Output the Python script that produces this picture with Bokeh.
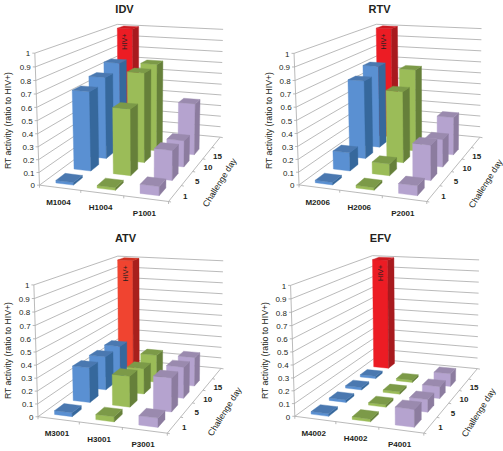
import numpy as np
from bokeh.plotting import figure
from bokeh.models import Range1d
from bokeh.core.properties import value
from bokeh.embed import file_html
from bokeh.resources import INLINE

# ---- data ----
titles = ["IDV", "RTV", "ATV", "EFV"]
day_labels = ["1", "5", "10", "15"]
tick_labels = ["0", "0.1", "0.2", "0.3", "0.4", "0.5", "0.6", "0.7", "0.8", "0.9", "1"]
samples = [["M1004", "H1004", "P1001"], ["M2006", "H2006", "P2001"],
           ["M3001", "H3001", "P3001"], ["M4002", "H4002", "P4001"]]
idv_m = [0.02, 0.645, 0.69, 0.75]
idv_h = [0.02, 0.535, 0.75, 0.76]
idv_p = [0.07, 0.24, 0.22, 0.445]
rtv_m = [0.02, 0.15, 0.66, 0.72]
rtv_h = [0.02, 0.095, 0.595, 0.71]
rtv_p = [0.075, 0.28, 0.23, 0.325]
atv_m = [0.03, 0.285, 0.285, 0.29]
atv_h = [0.04, 0.25, 0.215, 0.24]
atv_p = [0.07, 0.27, 0.26, 0.25]
efv_m = [0.02, 0.02, 0.02, 0.02]
efv_h = [0.02, 0.02, 0.02, 0.02]
efv_p = [0.135, 0.10, 0.10, 0.11]
hiv_pos = [1.0, 1.0, 1.0, 1.0]
panels = [[idv_m, idv_h, idv_p], [rtv_m, rtv_h, rtv_p], [atv_m, atv_h, atv_p], [efv_m, efv_h, efv_p]]

# ---- layout: perspective box corners (zoom-pixels / 3 + panel offset) ----
offsets = [(0, 0), (250, 0), (0, 225), (250, 225)]
corners = [
    dict(p000=(118, 553), p100=(503, 605), p110=(660, 407), p010=(352, 383), p001=(103, 157), p011=(350, 71), p111=(668, 88)),
    dict(p000=(148, 553), p100=(527, 605), p110=(690, 407), p010=(380, 383), p001=(130, 157), p011=(378, 71), p111=(693, 86)),
    dict(p000=(113, 572), p100=(500, 625), p110=(662, 426), p010=(354, 402), p001=(100, 178), p011=(352, 91), p111=(668, 107)),
    dict(p000=(135, 572), p100=(518, 625), p110=(682, 426), p010=(368, 402), p001=(120, 178), p011=(366, 90), p111=(686, 105)),
]
title_pos = [(124, 8), (379, 8), (125, 237), (380, 237)]
ylabel_x = [7, 268, 7, 264]
ylabel_y = [120, 120, 350, 350]
daylabel_pos = [(219, 182), (485, 183), (224, 411), (478, 412)]
red_colors = ["#ec1c24", "#ec1c24", "#f04430", "#ec1c24"]
red_side = ["#a81a1e", "#a81a1e", "#a8201c", "#a81a1e"]
red_top = ["#cc1a20", "#cc1a20", "#d03020", "#cc1a20"]
colors = [("#5a90d2", "#36689c", "#4a78b0"), ("#9bbc58", "#66803a", "#7c9a48"), ("#b5a3cf", "#8c7c9f", "#9a8aae")]
grid = "#a8a8a8"
text_c = "#231f20"
font = value("Liberation Sans")


def fit(c, off):
    keys = {"p000": (0, 0, 0), "p100": (1, 0, 0), "p110": (1, 1, 0), "p010": (0, 1, 0),
            "p001": (0, 0, 1), "p011": (0, 1, 1), "p111": (1, 1, 1)}
    A, b = [], []
    for k, (u, v, h) in keys.items():
        x = c[k][0] / 3 + off[0]
        y = c[k][1] / 3 + off[1]
        A.append([u, v, h, 1, 0, 0, 0, 0, -x * u, -x * v, -x * h]); b.append(x)
        A.append([0, 0, 0, 0, u, v, h, 1, -y * u, -y * v, -y * h]); b.append(y)
    s = np.linalg.lstsq(np.array(A, float), np.array(b, float), rcond=None)[0]
    M = np.append(s, 1.0).reshape(3, 4)

    def proj(u, v, h):
        q = M @ np.array([u, v, h, 1.0])
        return q[0] / q[2], q[1] / q[2]
    return proj


p = figure(width=503, height=451, x_range=Range1d(0, 503), y_range=Range1d(451, 0),
           output_backend="svg", toolbar_location=None, min_border=0)
p.axis.visible = False
p.grid.visible = False
p.outline_line_color = None

for i in range(4):
    proj = fit(corners[i], offsets[i])
    lx, ly = [], []

    def seg(a, b):
        pa, pb = proj(*a), proj(*b)
        lx.append([pa[0], pb[0]])
        ly.append([pa[1], pb[1]])

    for k in range(len(tick_labels)):
        h = k / 10
        seg((0, 0, h), (0, 1, h))
        seg((0, 1, h), (1, 1, h))
        a = proj(0, 0, h)
        lx.append([a[0], a[0] - 2.5]); ly.append([a[1], a[1]])
    seg((0, 0, 0), (0, 0, 1))
    seg((0, 0, 0), (1, 0, 0))
    seg((1, 0, 0), (1, 1, 0))
    for j in range(4):
        a = proj(j / 3, 0, 0)
        lx.append([a[0], a[0]]); ly.append([a[1], a[1] + 2.5])
    for j in range(6):
        a = proj(1, j / 5, 0)
        lx.append([a[0], a[0] + 2.5]); ly.append([a[1], a[1] + 0.5])
    p.multi_line(lx, ly, line_color=grid, line_width=0.8)

    # bars, painted back to front
    xs, ys, fc = [], [], []
    du, dv = 0.072, 0.05

    def bar(uc, vc, val, cols):
        u0, u1, v0, v1 = uc - du, uc + du, vc - dv, vc + dv
        faces = [
            ([(u0, v0, 0), (u1, v0, 0), (u1, v0, val), (u0, v0, val)], cols[0]),
            ([(u1, v0, 0), (u1, v1, 0), (u1, v1, val), (u1, v0, val)], cols[1]),
            ([(u0, v0, val), (u1, v0, val), (u1, v1, val), (u0, v1, val)], cols[2]),
        ]
        for pts, col in faces:
            q = [proj(*t) for t in pts]
            xs.append([t[0] for t in q])
            ys.append([t[1] for t in q])
            fc.append(col)

    bar(1 / 6, 0.9, hiv_pos[i], (red_colors[i], red_side[i], red_top[i]))
    for r in (3, 2, 1, 0):
        for c in range(3):
            bar((c + 0.5) / 3, (r + 0.5) / 5, panels[i][c][r], colors[c])
    p.patches(xs, ys, fill_color=fc, line_color=fc, line_width=0.4)

    # texts
    tx, ty = [], []
    for k in range(len(tick_labels)):
        a = proj(0, 0, k / 10)
        tx.append(a[0] - 4.5); ty.append(a[1] + 0.8)
    p.text(tx, ty, text=tick_labels, text_font=font, text_font_size="8px", text_color=text_c,
           text_align="right", text_baseline="middle")

    sx, sy = [], []
    for c in range(3):
        a = proj((c + 0.5) / 3, 0, 0)
        sx.append(a[0] - 1.5); sy.append(a[1] + 14.5)
    p.text(sx, sy, text=samples[i], text_font=font, text_font_size="8px", text_font_style="bold",
           text_color=text_c, text_align="center", text_baseline="middle")

    dx, dy = [], []
    for r in range(4):
        a = proj(1, (r + 0.5) / 5, 0)
        dx.append(a[0] + 10); dy.append(a[1] + 3)
    p.text(dx, dy, text=day_labels, text_font=font, text_font_size="8px", text_font_style="bold",
           text_color=text_c, text_align="center", text_baseline="middle")

    p.text([title_pos[i][0]], [title_pos[i][1]], text=[titles[i]], text_font=font, text_font_size="11px",
           text_font_style="bold", text_color=text_c, text_align="center", text_baseline="middle")
    p.text([ylabel_x[i]], [ylabel_y[i]], text=["RT activity (ratio to HIV+)"], text_font=font,
           text_font_size="8.7px", text_color=text_c, text_align="center", text_baseline="middle",
           angle=np.pi / 2)
    p.text([daylabel_pos[i][0]], [daylabel_pos[i][1]], text=["Challenge day"], text_font=font,
           text_font_size="8.7px", text_color=text_c, text_align="center", text_baseline="middle",
           angle=np.radians(58))
    a = proj(1 / 6, 0.9 - dv, hiv_pos[i])
    p.text([a[0]], [a[1] + 13], text=["HIV+"], text_font=font, text_font_size="7.2px",
           text_color="#231f20", text_align="center", text_baseline="middle", angle=np.pi / 2)

open("out.html", "w").write(file_html(p, INLINE))
